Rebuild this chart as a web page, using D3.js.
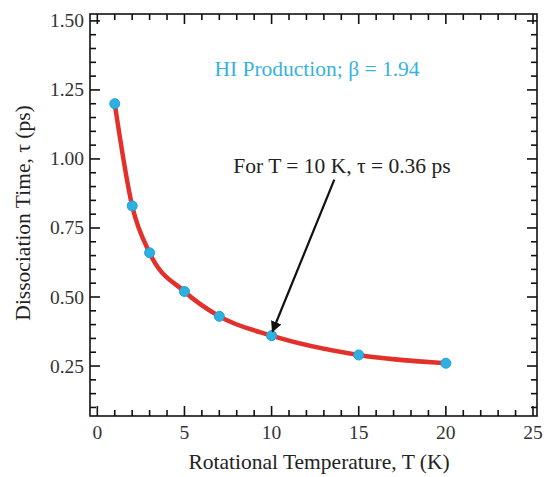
<!DOCTYPE html>
<html>
  <head>
    <meta charset="utf-8">
    <script src="https://cdn.jsdelivr.net/npm/d3@7"></script>
    <style>
      body { margin: 0; background: #ffffff; }
      text { font-family: "Liberation Serif", "Times New Roman", serif; }
    </style>
  </head>
  <body>
    <script>
      // rotational temperature (K) and dissociation time (ps)
      var temps = [1, 2, 3, 5, 7, 10, 15, 20];
      var taus = [1.20, 0.83, 0.66, 0.52, 0.43, 0.36, 0.29, 0.26];
      var xTicks = [0, 5, 10, 15, 20, 25];
      var yTicks = [0.25, 0.50, 0.75, 1.00, 1.25, 1.50];
      // arrow start / end in data units
      var arrowFrom = [13.6, 0.925];
      var arrowTo = [10.05, 0.375];

      var width = 546, height = 477;
      var pad = {left: 90, right: 9, top: 14, bottom: 61};

      var svg = d3.select("body").append("svg")
                  .attr("width", width)
                  .attr("height", height);

      var xScale = d3.scaleLinear()
                     .domain([-0.42, 25.23])
                     .range([pad.left, width - pad.right]);
      var yScale = d3.scaleLinear()
                     .domain([0.069, 1.525])
                     .range([height - pad.bottom, pad.top]);

      var x0 = xScale.range()[0], x1 = xScale.range()[1];
      var y0 = yScale.range()[0], y1 = yScale.range()[1];

      var minorX = d3.range(0, 26, 1).filter(function(d){ return d % 5 != 0; });
      var minorY = d3.range(0.10, 1.52, 0.05).filter(function(d){
        return Math.abs(d * 4 - Math.round(d * 4)) > 0.01;
      });

      // ticks: inward on all four sides
      var g = svg.append("g").attr("stroke", "#111").attr("stroke-width", 1.6);
      xTicks.forEach(function(t){
        g.append("line").attr("x1", xScale(t)).attr("x2", xScale(t))
         .attr("y1", y0).attr("y2", y0 - 10);
        g.append("line").attr("x1", xScale(t)).attr("x2", xScale(t))
         .attr("y1", y1).attr("y2", y1 + 10);
      });
      minorX.forEach(function(t){
        g.append("line").attr("x1", xScale(t)).attr("x2", xScale(t))
         .attr("y1", y0).attr("y2", y0 - 6);
        g.append("line").attr("x1", xScale(t)).attr("x2", xScale(t))
         .attr("y1", y1).attr("y2", y1 + 6);
      });
      yTicks.forEach(function(t){
        g.append("line").attr("y1", yScale(t)).attr("y2", yScale(t))
         .attr("x1", x0).attr("x2", x0 + 10);
        g.append("line").attr("y1", yScale(t)).attr("y2", yScale(t))
         .attr("x1", x1).attr("x2", x1 - 10);
      });
      minorY.forEach(function(t){
        g.append("line").attr("y1", yScale(t)).attr("y2", yScale(t))
         .attr("x1", x0).attr("x2", x0 + 6);
        g.append("line").attr("y1", yScale(t)).attr("y2", yScale(t))
         .attr("x1", x1).attr("x2", x1 - 6);
      });

      // frame
      svg.append("rect")
         .attr("x", x0).attr("y", y1)
         .attr("width", x1 - x0).attr("height", y0 - y1)
         .attr("fill", "none").attr("stroke", "#111").attr("stroke-width", 1.6);

      // tick labels
      svg.selectAll(".xlab").data(xTicks).enter().append("text")
         .attr("x", function(d){ return xScale(d); })
         .attr("y", y0 + 23)
         .attr("text-anchor", "middle")
         .attr("font-size", 19.5)
         .attr("fill", "#333")
         .text(function(d){ return d; });
      svg.selectAll(".ylab").data(yTicks).enter().append("text")
         .attr("x", x0 - 6)
         .attr("y", function(d){ return yScale(d) + 6.5; })
         .attr("text-anchor", "end")
         .attr("font-size", 19.5)
         .attr("fill", "#333")
         .text(function(d){ return d3.format(".2f")(d); });

      // axis titles
      svg.append("text")
         .attr("x", 319).attr("y", 469)
         .attr("text-anchor", "middle")
         .attr("font-size", 21.5)
         .attr("fill", "#222")
         .text("Rotational Temperature, T (K)");
      svg.append("text")
         .attr("transform", "translate(30,213) rotate(-90)")
         .attr("text-anchor", "middle")
         .attr("font-size", 21.5)
         .attr("fill", "#222")
         .text("Dissociation Time, \u03c4 (ps)");

      // curve
      var pts = temps.map(function(t, i){ return [t, taus[i]]; });
      var line = d3.line()
                   .x(function(d){ return xScale(d[0]); })
                   .y(function(d){ return yScale(d[1]); })
                   .curve(d3.curveMonotoneX);
      svg.append("path")
         .attr("d", line(pts))
         .attr("fill", "none")
         .attr("stroke", "#e3302a")
         .attr("stroke-width", 4.5);

      svg.selectAll(".pt").data(pts).enter().append("circle")
         .attr("cx", function(d){ return xScale(d[0]); })
         .attr("cy", function(d){ return yScale(d[1]); })
         .attr("r", 5)
         .attr("fill", "#2eb0e0")
         .attr("stroke", "#1fa2d6")
         .attr("stroke-width", 1);

      // annotations
      svg.append("text")
         .attr("x", 317).attr("y", 76)
         .attr("text-anchor", "middle")
         .attr("font-size", 21.5)
         .attr("fill", "#36b2e0")
         .text("HI Production; \u03b2 = 1.94");
      svg.append("text")
         .attr("x", 342).attr("y", 173)
         .attr("text-anchor", "middle")
         .attr("font-size", 21.5)
         .attr("fill", "#222")
         .text("For T = 10 K, \u03c4 = 0.36 ps");

      svg.append("defs").append("marker")
         .attr("id", "head")
         .attr("viewBox", "0 0 10 10")
         .attr("refX", 9).attr("refY", 5)
         .attr("markerWidth", 5).attr("markerHeight", 5)
         .attr("orient", "auto")
         .append("path").attr("d", "M0,0 L10,5 L0,10 z").attr("fill", "#111");
      svg.append("line")
         .attr("x1", xScale(arrowFrom[0])).attr("y1", yScale(arrowFrom[1]))
         .attr("x2", xScale(arrowTo[0])).attr("y2", yScale(arrowTo[1]))
         .attr("stroke", "#111").attr("stroke-width", 2.2)
         .attr("marker-end", "url(#head)");
    </script>
  </body>
</html>
